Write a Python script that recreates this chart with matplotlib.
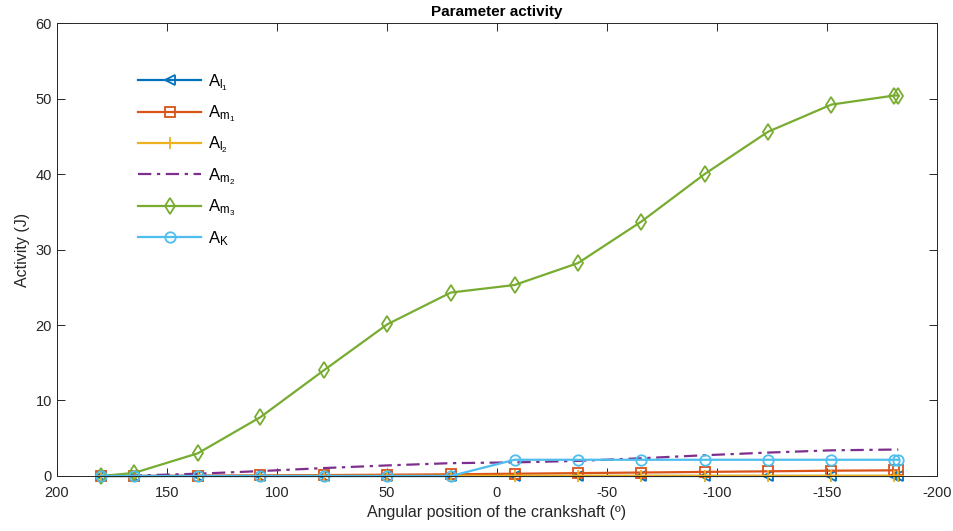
import matplotlib
matplotlib.use('Agg')
import matplotlib.pyplot as plt

plt.rcParams['font.family'] = ['Liberation Sans', 'DejaVu Sans']
plt.rcParams['mathtext.fontset'] = 'custom'
plt.rcParams['mathtext.rm'] = 'Liberation Sans'
plt.rcParams['mathtext.it'] = 'Liberation Sans'
plt.rcParams['axes.unicode_minus'] = False

# crank angle (deg) at each sample
angle = [180, 165, 136, 107.5, 78.7, 49.8, 21, -8, -36.8, -65.6, -94.4,
         -123.2, -152, -180.6, -182.4]

a_l1 = [0, 0, 0, 0, 0, 0, 0, 0, 0, 0, 0, 0, 0, 0, 0]
a_m1 = [0, 0, 0.04, 0.08, 0.12, 0.17, 0.22, 0.3, 0.38, 0.46, 0.54, 0.62,
        0.7, 0.75, 0.75]
a_l2 = [0, 0, 0.01, 0.01, 0.02, 0.02, 0.02, 0.03, 0.03, 0.03, 0.03, 0.03,
        0.03, 0.03, 0.03]
a_m2 = [0, 0.05, 0.3, 0.65, 1.05, 1.4, 1.7, 1.8, 2.0, 2.35, 2.75, 3.1,
        3.4, 3.5, 3.5]
a_m3 = [0, 0.4, 3.0, 7.8, 14.0, 20.1, 24.3, 25.3, 28.2, 33.7, 40.0, 45.6,
        49.2, 50.4, 50.4]
a_k = [0, 0, 0, 0, 0, 0, 0, 2.15, 2.15, 2.15, 2.15, 2.15, 2.15, 2.15, 2.15]

labels = [r'$\mathrm{A_{l_1}}$', r'$\mathrm{A_{m_1}}$', r'$\mathrm{A_{l_2}}$',
          r'$\mathrm{A_{m_2}}$', r'$\mathrm{A_{m_3}}$', r'$\mathrm{A_K}$']

fig = plt.figure(figsize=(9.54, 5.31), dpi=100)
ax = fig.add_axes([0.0597, 0.1036, 0.9225, 0.853])

lw = 1.6
common = dict(lw=lw, mew=1.3, clip_on=False)
ax.plot(angle, a_l1, color='#0072BD', marker='<', ms=7, mfc='none',
        label=labels[0], **common)
ax.plot(angle, a_m1, color='#D95319', marker='s', ms=6.5, mfc='none',
        label=labels[1], **common)
ax.plot(angle, a_l2, color='#EDB120', marker='+', ms=8,
        label=labels[2], **common)
ax.plot(angle, a_m2, color='#7E2F8E', ls=(0, (6, 2.5, 1.5, 2.5)),
        label=labels[3], **common)
ax.plot(angle, a_m3, color='#77AC30', marker='d', ms=8, mfc='none',
        label=labels[4], **common)
ax.plot(angle, a_k, color='#4DBEEE', marker='o', ms=7.5, mfc='none',
        label=labels[5], **common)

ax.set_xlim(200, -200)
ax.set_ylim(0, 60)
ax.set_xticks(range(200, -201, -50))
ax.set_yticks(range(0, 61, 10))

for s in ax.spines.values():
    s.set_color('#262626')
    s.set_linewidth(0.7)
ax.tick_params(direction='in', length=6, width=0.7, color='#262626',
               top=True, right=True, labelsize=10.5, labelcolor='#262626')
ax.tick_params(axis='x', pad=7)

ax.set_title('Parameter activity', fontsize=11, fontweight='bold',
             color='black', pad=5)
ax.set_xlabel('Angular position of the crankshaft (º)', fontsize=11.5,
              color='#262626', labelpad=4)
ax.set_ylabel('Activity (J)', fontsize=11.5, color='#262626', labelpad=4)

ax.legend(loc='upper left', bbox_to_anchor=(0.075, 0.925), frameon=False,
          fontsize=12, handlelength=3.8, labelspacing=0.65,
          handletextpad=0.4)

fig.savefig('out.png', dpi=100)
